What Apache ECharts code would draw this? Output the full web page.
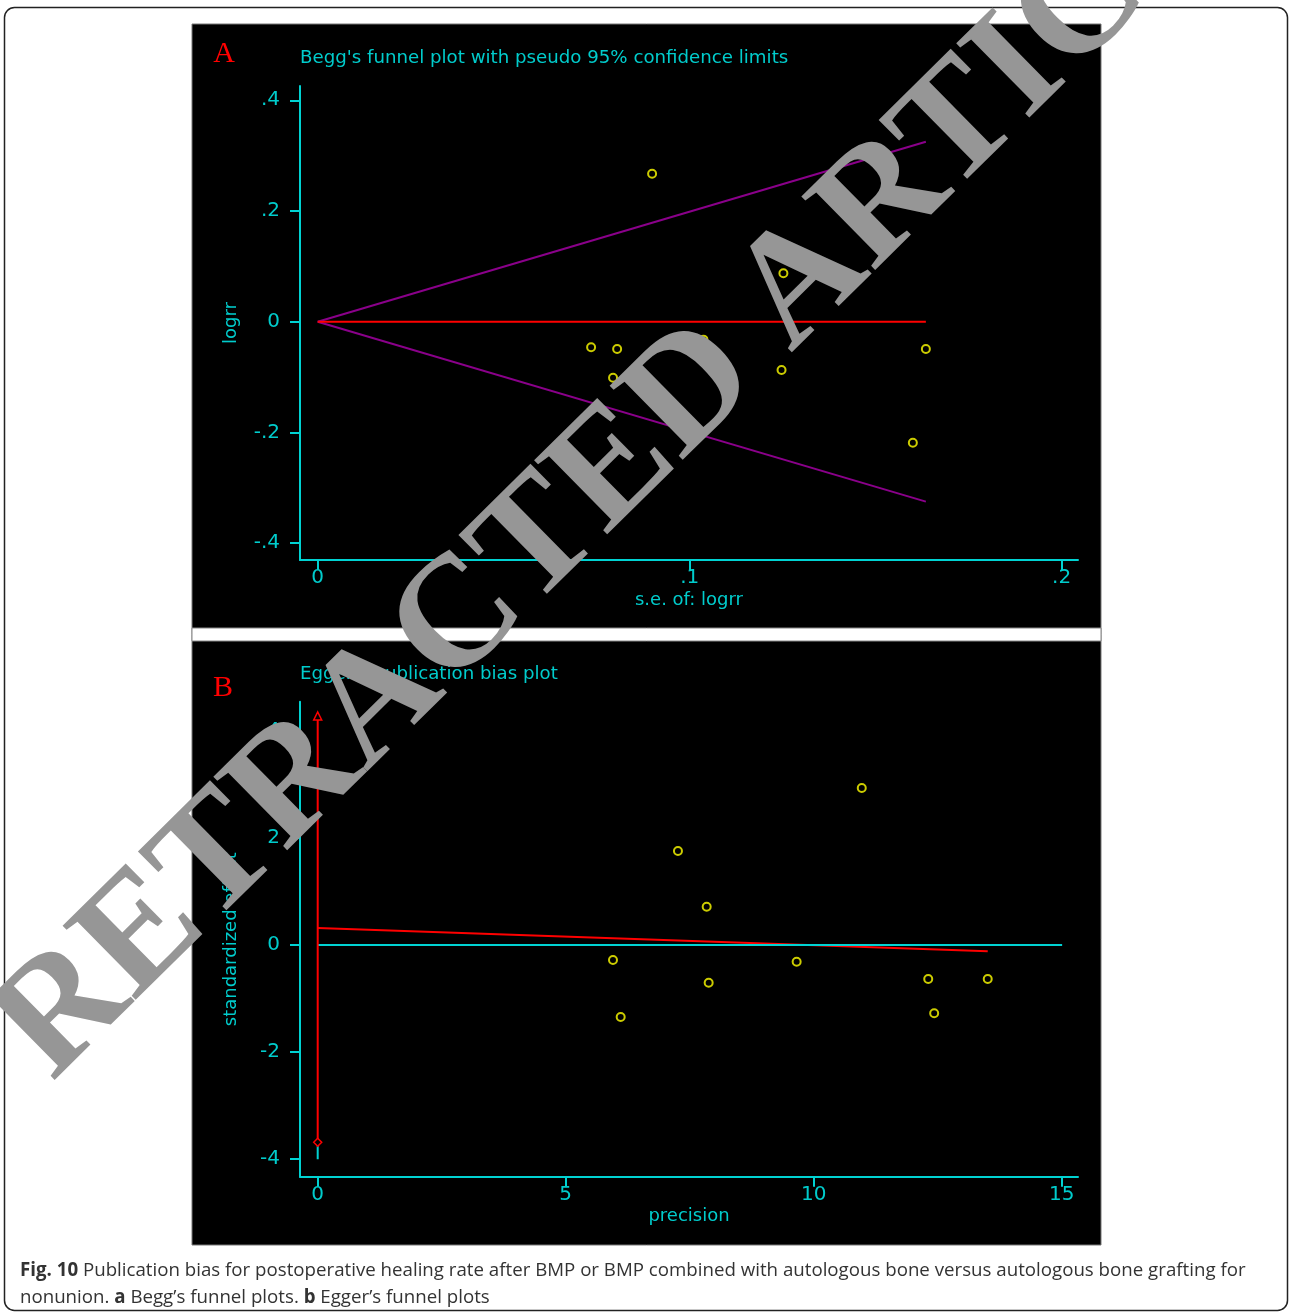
<!DOCTYPE html>
<html>
<head>
<meta charset="utf-8">
<script src="https://cdn.jsdelivr.net/npm/echarts@6/dist/echarts.min.js"></script>
<style>
html,body{margin:0;padding:0;background:#fff;}
#chart{width:1290px;height:1316px;}
</style>
</head>
<body>
<div id="chart"></div>
<script>
// ---- Panel A: Begg's funnel plot ----
var beggSE    = [0.0899, 0.1252, 0.0735, 0.0805, 0.0794, 0.1247, 0.1635, 0.1600, 0.1378, 0.1037];
var beggLogRR = [0.2674, 0.0874, -0.0463, -0.0493, -0.1011, -0.0873, -0.0493, -0.2186, 0.2420, -0.0324];
var funnelSE    = [0, 0.1635];
var funnelUpper = [0, 0.325];
var funnelLower = [0, -0.325];
var pooledLogRR = [0, 0];
var beggXTicks = [0, 0.1, 0.2];
var beggYTicks = [-0.4, -0.2, 0, 0.2, 0.4];

// ---- Panel B: Egger's publication bias plot ----
var eggerPrecision = [10.97, 7.264, 7.843, 5.954, 6.109, 7.883, 9.657, 12.31, 12.43, 13.51];
var eggerStdEffect = [2.937, 1.759, 0.717, -0.281, -1.347, -0.705, -0.312, -0.636, -1.278, -0.636];
var regLineX = [0, 13.51];
var regLineY = [0.318, -0.118];
var interceptCI = [-3.691, 4.284];
var interceptTail = [-4.009, -3.691];
var zeroLineX = [0, 15.01];
var eggerXTicks = [0, 5, 10, 15];
var eggerYTicks = [-4, -2, 0, 2, 4];

var CYAN = '#00d2d2';
var CYAN_TXT = '#00cccc';
var STATA_FONT = '"DejaVu Sans", Verdana, sans-serif';

function pairs(xs, ys) { return xs.map(function (x, i) { return [x, ys[i]]; }); }
function fmtDot(v) { return String(v).replace(/^(-?)0\./, '$1.'); }

function xAxisCfg(grid, min, max, ticks, name, fmt) {
  return {
    gridIndex: grid, type: 'value', min: min, max: max,
    name: name, nameLocation: 'middle', nameGap: 31,
    nameTextStyle: { color: CYAN_TXT, fontSize: 18, fontFamily: STATA_FONT },
    axisLine: { show: true, onZero: false, lineStyle: { color: CYAN, width: 2 } },
    axisTick: { show: true, customValues: ticks, length: 10, lineStyle: { color: CYAN, width: 2 } },
    axisLabel: { customValues: ticks, formatter: fmt, color: CYAN_TXT, fontSize: 20, margin: 8, fontFamily: STATA_FONT },
    splitLine: { show: false }
  };
}
function yAxisCfg(grid, min, max, ticks, name, fmt, gap) {
  return {
    gridIndex: grid, type: 'value', min: min, max: max,
    name: name, nameLocation: 'middle', nameGap: gap,
    nameTextStyle: { color: CYAN_TXT, fontSize: 18, fontFamily: STATA_FONT },
    axisLine: { show: true, onZero: false, lineStyle: { color: CYAN, width: 2 } },
    axisTick: { show: true, customValues: ticks, length: 10, lineStyle: { color: CYAN, width: 2 } },
    axisLabel: { customValues: ticks, formatter: fmt, color: CYAN_TXT, fontSize: 20, margin: 20, fontFamily: STATA_FONT },
    splitLine: { show: false }
  };
}

var chart = echarts.init(document.getElementById('chart'), null, { renderer: 'canvas' });

var hollowYellow = { color: '#000', borderColor: '#ffff00', borderWidth: 2 };

var option = {
  backgroundColor: '#ffffff',
  animation: false,
  grid: [
    { left: 300, top: 86, width: 778, height: 474 },
    { left: 300, top: 701.7, width: 778, height: 475 }
  ],
  xAxis: [
    xAxisCfg(0, -0.00476, 0.2044, beggXTicks, 's.e. of: logrr', fmtDot),
    xAxisCfg(1, -0.357, 15.33, eggerXTicks, 'precision', function (v) { return String(v); })
  ],
  yAxis: [
    yAxisCfg(0, -0.4305, 0.4258, beggYTicks, 'logrr', fmtDot, 60),
    yAxisCfg(1, -4.335, 4.552, eggerYTicks, 'standardized effect', function (v) { return String(v); }, 60)
  ],
  series: [
    { type: 'line', xAxisIndex: 0, yAxisIndex: 0, data: pairs(funnelSE, funnelUpper), showSymbol: false, symbol: 'none',
      lineStyle: { color: '#8a008a', width: 2 }, z: 3 },
    { type: 'line', xAxisIndex: 0, yAxisIndex: 0, data: pairs(funnelSE, funnelLower), showSymbol: false, symbol: 'none',
      lineStyle: { color: '#8a008a', width: 2 }, z: 3 },
    { type: 'line', xAxisIndex: 0, yAxisIndex: 0, data: pairs(funnelSE, pooledLogRR), showSymbol: false, symbol: 'none',
      lineStyle: { color: '#ff0000', width: 2 }, z: 4 },
    { type: 'scatter', xAxisIndex: 0, yAxisIndex: 0, data: pairs(beggSE, beggLogRR), symbol: 'circle', symbolSize: 8,
      itemStyle: hollowYellow, z: 5 },

    { type: 'line', xAxisIndex: 1, yAxisIndex: 1, data: pairs(regLineX, regLineY), showSymbol: false, symbol: 'none',
      lineStyle: { color: '#ff0000', width: 2 }, z: 3 },
    { type: 'line', xAxisIndex: 1, yAxisIndex: 1, data: pairs(zeroLineX, [0, 0]), showSymbol: false, symbol: 'none',
      lineStyle: { color: CYAN, width: 2 }, z: 4 },
    { type: 'line', xAxisIndex: 1, yAxisIndex: 1, data: pairs([0, 0], interceptTail), showSymbol: false, symbol: 'none',
      lineStyle: { color: CYAN, width: 2 }, z: 4 },
    { type: 'line', xAxisIndex: 1, yAxisIndex: 1,
      data: [
        { value: [0, interceptCI[0]], symbol: 'diamond', symbolSize: 8 },
        { value: [0, interceptCI[1]], symbol: 'triangle', symbolSize: 8 }
      ],
      showSymbol: true,
      itemStyle: { color: '#000', borderColor: '#ff0000', borderWidth: 1.5 },
      lineStyle: { color: '#ff0000', width: 2 }, z: 5 },
    { type: 'scatter', xAxisIndex: 1, yAxisIndex: 1, data: pairs(eggerPrecision, eggerStdEffect), symbol: 'circle', symbolSize: 8,
      itemStyle: hollowYellow, z: 6 }
  ],
  graphic: [
    { type: 'rect', z: -20, silent: true, shape: { x: 4.5, y: 7.5, width: 1283, height: 1303, r: 10 },
      style: { fill: '#fff', stroke: '#222', lineWidth: 1.5 } },
    { type: 'rect', z: -10, silent: true, shape: { x: 192, y: 24, width: 909, height: 1221 },
      style: { fill: '#000', stroke: '#777', lineWidth: 1 } },
    { type: 'rect', z: -9, silent: true, shape: { x: 192, y: 628, width: 909, height: 13 },
      style: { fill: '#fff', stroke: '#888', lineWidth: 1 } },
    { type: 'text', z: 10, silent: true, x: 300, y: 58,
      style: { text: "Begg's funnel plot with pseudo 95% confidence limits", fill: CYAN_TXT,
               font: '18.2px ' + STATA_FONT, verticalAlign: 'middle' } },
    { type: 'text', z: 10, silent: true, x: 300, y: 674,
      style: { text: "Egger's publication bias plot", fill: CYAN_TXT,
               font: '18.2px ' + STATA_FONT, verticalAlign: 'middle' } },
    { type: 'text', z: 10, silent: true, x: 224, y: 54,
      style: { text: 'A', fill: '#ff0000', font: '30px "Liberation Serif", "Times New Roman", serif',
               align: 'center', verticalAlign: 'middle' } },
    { type: 'text', z: 10, silent: true, x: 223, y: 688,
      style: { text: 'B', fill: '#ff0000', font: '30px "Liberation Serif", "Times New Roman", serif',
               align: 'center', verticalAlign: 'middle' } },
    { type: 'text', z: 100, silent: true, x: 23.1, y: 1053.3, rotation: 0.779,
      style: { text: 'RETRACTED ARTICLE', fill: '#969696', font: 'bold 159px "Liberation Serif", "Times New Roman", serif',
               align: 'left', verticalAlign: 'middle' } },
    { type: 'text', z: 10, silent: true, x: 20, y: 1271,
      style: { text: '{b|Fig. 10} Publication bias for postoperative healing rate after BMP or BMP combined with autologous bone versus autologous bone grafting for',
               fill: '#333', font: '18.7px "Open Sans", sans-serif', verticalAlign: 'middle',
               rich: { b: { fontWeight: 'bold', fontSize: 18.7, fontFamily: '"Open Sans", sans-serif', fill: '#333' } } } },
    { type: 'text', z: 10, silent: true, x: 20, y: 1298,
      style: { text: 'nonunion. {b|a} Begg\u2019s funnel plots. {b|b} Egger\u2019s funnel plots',
               fill: '#333', font: '18.7px "Open Sans", sans-serif', verticalAlign: 'middle',
               rich: { b: { fontWeight: 'bold', fontSize: 18.7, fontFamily: '"Open Sans", sans-serif', fill: '#333' } } } }
  ]
};
chart.setOption(option);
</script>
</body>
</html>
